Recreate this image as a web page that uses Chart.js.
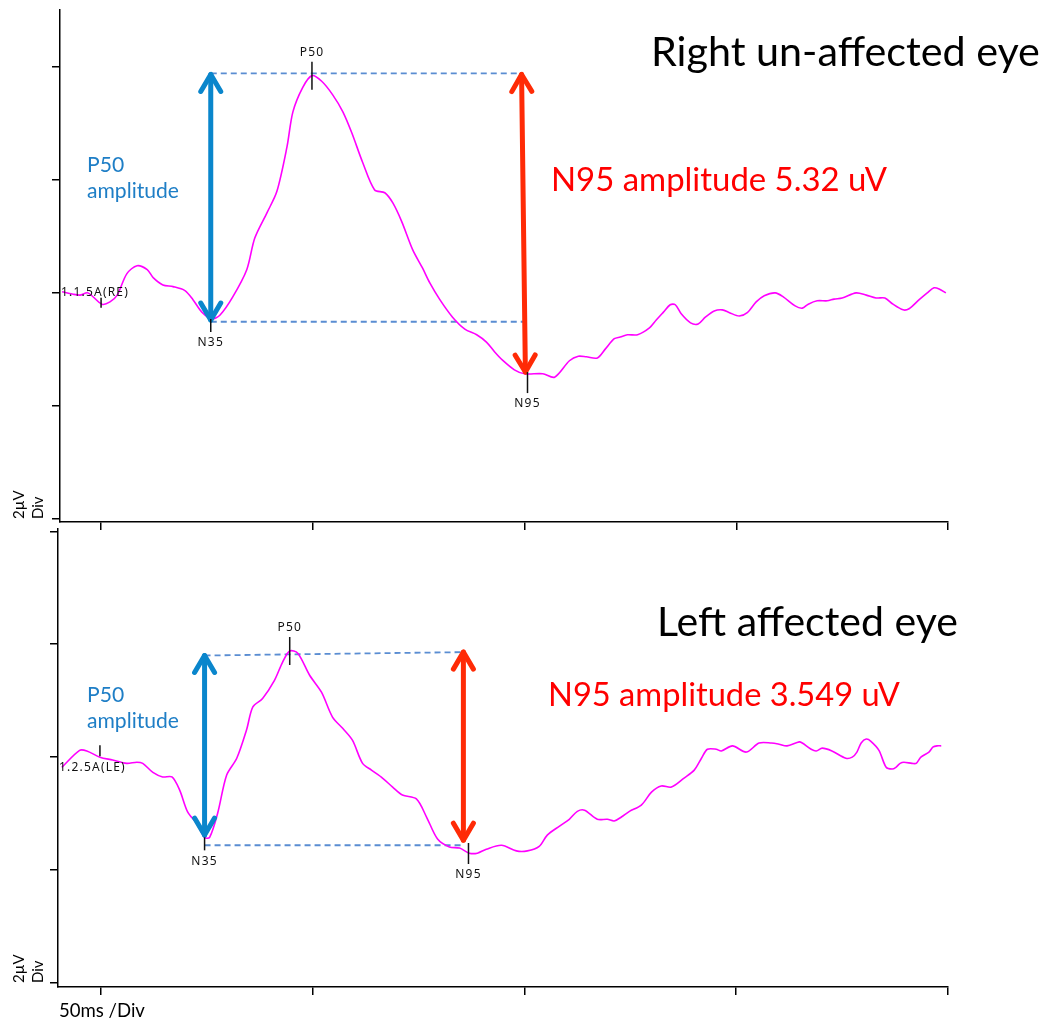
<!DOCTYPE html>
<html>
<head>
<meta charset="utf-8">
<script src="https://cdn.jsdelivr.net/npm/chart.js@4.4.1/dist/chart.umd.min.js"></script>
<style>
  html, body { margin: 0; padding: 0; background: #fff; }
  #wrap { position: relative; width: 1044px; height: 1021px; }
  canvas { position: absolute; left: 0; top: 0; }
</style>
</head>
<body>
<div id="wrap">
  <canvas id="rightEye" width="1044" height="1021"></canvas>
  <canvas id="leftEye" width="1044" height="1021"></canvas>
</div>
<script>
// Right (un-affected) eye trace: time in ms, amplitude in uV
var rightTime = [-9.2, -6.8, -5.0, -3.1, 0.2, 2.1, 3.8, 6.1, 8.5, 10.9, 12.3, 14.6, 17.0, 19.8, 21.7, 23.8,
  26.2, 28.1, 31.1, 34.4, 36.3, 39.2, 41.5, 43.9, 45.3, 47.6, 49.8, 52.1, 54.7, 57.1, 59.2, 61.8,
  64.6, 67.0, 68.9, 71.0, 73.6, 75.9, 77.6, 80.0, 83.0, 85.9, 88.7, 91.0, 92.9, 94.8, 97.6, 100.0,
  104.3, 107.1, 110.6, 112.7, 114.6, 117.2, 119.1, 121.2, 122.6, 124.3, 126.7, 129.5, 131.1, 132.8,
  134.4, 135.6, 137.0, 139.2, 141.0, 142.7, 144.8, 146.7, 148.4, 150.7, 152.6, 154.7, 156.6, 159.2,
  161.1, 163.9, 165.6, 167.0, 169.1, 171.5, 173.1, 175.0, 178.3, 180.7, 183.0, 185.1, 187.0, 189.4,
  190.8, 193.2, 195.1, 196.7, 197.9, 199.5];
var rightAmp = [0.02, -0.02, -0.04, 0.00, -0.20, -0.16, -0.04, 0.34, 0.48, 0.41, 0.27, 0.14, 0.11, 0.04, -0.12, -0.34,
  -0.46, -0.39, -0.07, 0.41, 0.97, 1.42, 1.79, 2.58, 3.20, 3.63, 3.84, 3.74, 3.50, 3.20, 2.83, 2.30,
  1.82, 1.77, 1.59, 1.26, 0.76, 0.44, 0.18, -0.12, -0.43, -0.64, -0.74, -0.87, -1.04, -1.19, -1.36, -1.43,
  -1.43, -1.49, -1.20, -1.12, -1.13, -1.15, -0.99, -0.81, -0.78, -0.74, -0.74, -0.62, -0.48, -0.34,
  -0.21, -0.21, -0.37, -0.53, -0.55, -0.43, -0.32, -0.30, -0.35, -0.41, -0.35, -0.16, -0.05, 0.00,
  -0.07, -0.23, -0.27, -0.20, -0.14, -0.14, -0.11, -0.09, 0.00, -0.04, -0.09, -0.09, -0.20, -0.30,
  -0.28, -0.12, 0.00, 0.09, 0.07, 0.00];

// Left (affected) eye trace
var leftTime = [-9.2, -5.0, -3.3, -0.2, 2.8, 6.1, 8.5, 9.9, 12.3, 14.6, 16.8, 18.6, 20.5, 22.6, 24.5, 25.7,
  27.6, 29.7, 32.1, 34.4, 35.9, 38.2, 41.0, 42.9, 44.6, 46.5, 49.3, 52.1, 54.7, 57.1, 59.4, 61.8,
  63.9, 66.5, 68.9, 71.2, 74.5, 76.9, 79.5, 82.3, 84.7, 87.0, 88.9, 91.0, 94.6, 98.1, 100.7, 103.5,
  105.4, 108.3, 110.6, 112.5, 114.2, 117.2, 119.6, 121.2, 122.9, 124.8, 127.6, 130.0, 132.3, 134.7,
  137.7, 140.1, 141.8, 143.2, 145.3, 146.5, 149.1, 152.4, 155.4, 158.3, 160.1, 162.0, 164.9, 165.6,
  167.7, 168.9, 170.3, 172.6, 175.9, 177.4, 178.5, 179.5, 180.7, 181.8, 183.7, 185.4, 186.8, 187.7,
  188.7, 189.6, 191.5, 192.5, 193.6, 195.5, 196.5, 197.4, 198.4];
var leftAmp = [-0.18, 0.12, 0.11, 0.00, -0.05, -0.11, -0.09, -0.11, -0.27, -0.35, -0.35, -0.58, -0.97, -1.17, -1.42, -1.42,
  -0.99, -0.32, -0.02, 0.48, 0.89, 1.04, 1.36, 1.68, 1.88, 1.84, 1.45, 1.15, 0.71, 0.51, 0.30, -0.11,
  -0.23, -0.37, -0.53, -0.67, -0.74, -1.06, -1.45, -1.59, -1.61, -1.70, -1.70, -1.63, -1.56, -1.66, -1.66, -1.58,
  -1.38, -1.22, -1.10, -0.96, -0.94, -1.10, -1.10, -1.13, -1.06, -0.96, -0.85, -0.62, -0.51, -0.53,
  -0.37, -0.23, -0.02, 0.14, 0.14, 0.11, 0.20, 0.09, 0.25, 0.25, 0.23, 0.20, 0.27, 0.25,
  0.14, 0.11, 0.16, 0.11, -0.02, 0.00, 0.09, 0.25, 0.32, 0.28, 0.12, -0.18, -0.21, -0.18,
  -0.11, -0.09, -0.11, -0.11, 0.00, 0.09, 0.18, 0.20, 0.20];

// axes: 50 ms / div and 2 uV / div
var xTicks = [0, 50, 100, 150, 200];
var yTicks = [-4, -2, 0, 2, 4];
var rightXRange = [-9.7, 200];
var rightYRange = [-4.05, 5.0];
var leftXRange = [-10.1, 200];
var leftYRange = [-4.07, 4.04];

// labelled peaks
var peakLabels = ['N35', 'P50', 'N95'];
var rightPeakTime = [25.9, 49.8, 100.7];
var rightPeakAmp = [-0.46, 3.84, -1.40];
var leftPeakTime = [24.5, 44.6, 86.8];
var leftPeakAmp = [-1.42, 1.88, -1.52];

// amplitude measures: [time, from uV, to uV] and [top time, top uV, bottom time, bottom uV]
var rightP50Arrow = [25.9, -0.48, 3.86];
var rightN95Arrow = [99.3, 3.86, 100.2, -1.40];
var leftP50Arrow = [24.5, -1.38, 1.80];
var leftN95Arrow = [85.6, 1.86, 85.6, -1.47];

// dashed reference levels: [start time, start uV, end time, end uV]
var rightUpperLevel = [25.9, 3.88, 99.3, 3.88];
var rightLowerLevel = [25.9, -0.51, 100.0, -0.51];
var leftUpperLevel = [24.5, 1.80, 85.6, 1.86];
var leftLowerLevel = [24.5, -1.56, 85.4, -1.56];

// sweep start markers
var sweepLabels = ['1.1.5A(RE)', '1.2.5A(LE)'];
var sweepTime = [0, -0.2];

var MAGENTA = '#FF00FF';
var DASH = '#5A8DD2';
var BLUE = '#0A86CC';
var BLUE_TEXT = '#1E7EC6';
var RED = '#FF2B06';

function toPoints(xs, ys) {
  return xs.map(function (x, i) { return {x: x, y: ys[i]}; });
}

function levelLine(l) {
  return {
    data: [{x: l[0], y: l[1]}, {x: l[2], y: l[3]}],
    borderColor: DASH, borderWidth: 1.8, borderDash: [6, 4], pointRadius: 0
  };
}

// draw a double headed arrow with open chevron heads
function drawArrow(ctx, x1, y1, x2, y2, color) {
  ctx.save();
  ctx.strokeStyle = color;
  ctx.lineWidth = 5;
  ctx.lineCap = 'round';
  ctx.lineJoin = 'round';
  ctx.beginPath();
  ctx.moveTo(x1, y1);
  ctx.lineTo(x2, y2);
  ctx.stroke();
  [[x1, y1, x2, y2], [x2, y2, x1, y1]].forEach(function (p) {
    var dx = p[0] - p[2], dy = p[1] - p[3];
    var len = Math.sqrt(dx * dx + dy * dy);
    dx /= len; dy /= len;
    var back = 17, side = 10;
    ctx.beginPath();
    ctx.moveTo(p[0] - dx * back - dy * side, p[1] - dy * back + dx * side);
    ctx.lineTo(p[0], p[1]);
    ctx.lineTo(p[0] - dx * back + dy * side, p[1] - dy * back - dx * side);
    ctx.stroke();
  });
  ctx.restore();
}

// text sized so that it spans the given width
function fitText(ctx, str, x, y, width, color, family) {
  ctx.font = '100px ' + family;
  var size = 100 * width / ctx.measureText(str).width;
  ctx.font = size.toFixed(2) + 'px ' + family;
  ctx.fillStyle = color;
  ctx.textAlign = 'left';
  ctx.textBaseline = 'alphabetic';
  ctx.fillText(str, x, y);
  return size;
}

function smallText(ctx, str, x, y, align) {
  ctx.font = '12px "Noto Sans"';
  ctx.letterSpacing = '1.2px';
  ctx.fillStyle = '#111';
  ctx.textAlign = align;
  ctx.textBaseline = 'middle';
  ctx.fillText(str, x, y);
  ctx.letterSpacing = '0px';
}

function makeOverlay(cfg) {
  return {
    id: 'overlay',
    afterDraw: function (chart) {
      var ctx = chart.ctx;
      var X = function (v) { return chart.scales.x.getPixelForValue(v); };
      var Y = function (v) { return chart.scales.y.getPixelForValue(v); };
      ctx.save();

      drawArrow(ctx, X(cfg.p50Arrow[0]), Y(cfg.p50Arrow[1]), X(cfg.p50Arrow[0]), Y(cfg.p50Arrow[2]), BLUE);
      drawArrow(ctx, X(cfg.n95Arrow[0]), Y(cfg.n95Arrow[1]), X(cfg.n95Arrow[2]), Y(cfg.n95Arrow[3]), RED);

      // peak markers
      ctx.strokeStyle = '#111';
      ctx.lineWidth = 1.5;
      peakLabels.forEach(function (lab, i) {
        var px = X(cfg.peakTime[i]), py = Y(cfg.peakAmp[i]);
        ctx.beginPath();
        if (lab[0] === 'P') {
          ctx.moveTo(px, py - 14); ctx.lineTo(px, py + 14); ctx.stroke();
          smallText(ctx, lab, px, py - 23, 'center');
        } else {
          var tl = lab === 'N35' ? 13 : 21;
          ctx.moveTo(px, py); ctx.lineTo(px, py + tl); ctx.stroke();
          smallText(ctx, lab, px, py + tl + 11, 'center');
        }
      });

      // sweep start marker
      var sx = X(cfg.sweepTime), sy = Y(0);
      ctx.beginPath();
      ctx.moveTo(sx, sy + cfg.sweepTick[0]);
      ctx.lineTo(sx, sy + cfg.sweepTick[1]);
      ctx.stroke();
      smallText(ctx, cfg.sweepLabel, chart.chartArea.left + 1, sy + cfg.sweepTextDy, 'left');

      // headings and notes
      fitText(ctx, cfg.title[0], cfg.title[1], cfg.title[2], cfg.title[3], '#000', 'Lato');
      fitText(ctx, cfg.n95Text[0], cfg.n95Text[1], cfg.n95Text[2], cfg.n95Text[3], '#FF0000', 'Lato');
      var s = fitText(ctx, 'amplitude', 87, cfg.p50TextY + 26, 92, BLUE_TEXT, 'Lato');
      ctx.font = s.toFixed(2) + 'px Lato';
      ctx.fillText('P50', 87, cfg.p50TextY);

      // vertical scale note
      ctx.translate(0, cfg.scaleNoteY);
      ctx.rotate(-Math.PI / 2);
      ctx.font = '15px Lato';
      ctx.fillStyle = '#000';
      ctx.textAlign = 'left';
      ctx.textBaseline = 'middle';
      ctx.fillText('2\u00b5V', 0, 19);
      ctx.fillText('Div', 0, 38);
      ctx.setTransform(1, 0, 0, 1, 0, 0);

      if (cfg.timeNote) {
        fitText(ctx, '50ms /Div', 59, 1017, 86, '#000', 'Lato');
      }
      ctx.restore();
    }
  };
}

function axisOptions(xRange, yRange, yWidth) {
  var grid = {drawOnChartArea: false, drawTicks: true, tickLength: 8, color: '#000', lineWidth: 1.5};
  var border = {display: true, color: '#000', width: 1.5};
  return {
    x: {
      type: 'linear', min: xRange[0], max: xRange[1],
      afterBuildTicks: function (s) { s.ticks = xTicks.map(function (v) { return {value: v}; }); },
      afterFit: function (s) { s.height = 10; },
      ticks: {display: false}, grid: grid, border: border
    },
    y: {
      type: 'linear', min: yRange[0], max: yRange[1],
      afterBuildTicks: function (s) { s.ticks = yTicks.map(function (v) { return {value: v}; }); },
      afterFit: function (s) { s.width = yWidth; },
      ticks: {display: false}, grid: grid, border: border
    }
  };
}

function makeChart(id, trace, upper, lower, xRange, yRange, yWidth, padding, cfg) {
  return new Chart(document.getElementById(id), {
    type: 'line',
    data: {
      datasets: [
        {data: trace, borderColor: MAGENTA, borderWidth: 1.6, pointRadius: 0, tension: 0.3},
        levelLine(upper),
        levelLine(lower)
      ]
    },
    options: {
      responsive: false,
      animation: false,
      devicePixelRatio: 1,
      layout: {padding: padding},
      scales: axisOptions(xRange, yRange, yWidth),
      plugins: {legend: {display: false}, tooltip: {enabled: false}}
    },
    plugins: [makeOverlay(cfg)]
  });
}

makeChart('rightEye', toPoints(rightTime, rightAmp), rightUpperLevel, rightLowerLevel,
  rightXRange, rightYRange, 60, {left: 0, top: 10, right: 96, bottom: 489}, {
    p50Arrow: rightP50Arrow, n95Arrow: rightN95Arrow,
    peakTime: rightPeakTime, peakAmp: rightPeakAmp,
    sweepTime: sweepTime[0], sweepLabel: sweepLabels[0], sweepTick: [5, 15], sweepTextDy: 0,
    title: ['Right un-affected eye', 651, 66, 389],
    n95Text: ['N95 amplitude 5.32 uV', 551, 191, 336],
    p50TextY: 172, scaleNoteY: 519, timeNote: false
  });

makeChart('leftEye', toPoints(leftTime, leftAmp), leftUpperLevel, leftLowerLevel,
  leftXRange, leftYRange, 58, {left: 0, top: 529, right: 96, bottom: 24}, {
    p50Arrow: leftP50Arrow, n95Arrow: leftN95Arrow,
    peakTime: leftPeakTime, peakAmp: leftPeakAmp,
    sweepTime: sweepTime[1], sweepLabel: sweepLabels[1], sweepTick: [-12, -1], sweepTextDy: 10,
    title: ['Left affected eye', 657, 636, 301],
    n95Text: ['N95 amplitude 3.549 uV', 548, 706, 352],
    p50TextY: 702, scaleNoteY: 983, timeNote: true
  });
</script>
</body>
</html>
